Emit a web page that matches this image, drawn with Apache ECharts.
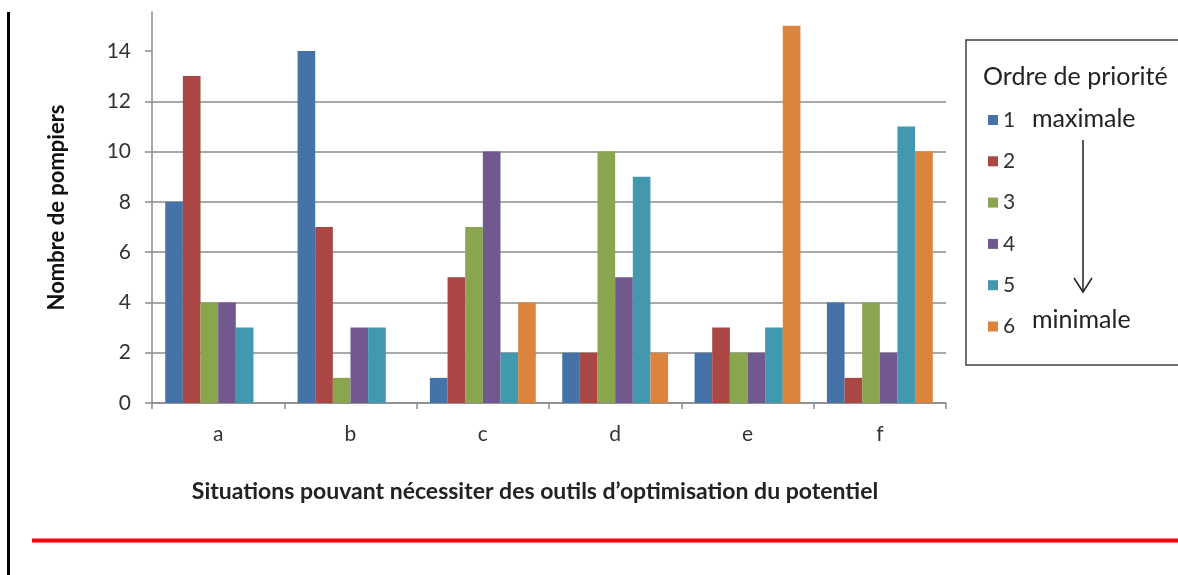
<!DOCTYPE html>
<html>
<head>
<meta charset="utf-8">
<title>Nombre de pompiers par situation</title>
<script src="https://cdn.jsdelivr.net/npm/echarts@6/dist/echarts.min.js"></script>
<style>
  html, body { margin: 0; padding: 0; background: #fff; }
  #chart { width: 1178px; height: 575px; }
</style>
</head>
<body>
<div id="chart"></div>
<script>
// situations (axe des x)
const categories = ['a', 'b', 'c', 'd', 'e', 'f'];
// ordre de priorité 1 (maximale) -> 6 (minimale)
const seriesNames = ['1', '2', '3', '4', '5', '6'];
const prio1 = [8, 14, 1, 2, 2, 4];
const prio2 = [13, 7, 5, 2, 3, 1];
const prio3 = [4, 1, 7, 10, 2, 4];
const prio4 = [4, 3, 10, 5, 2, 2];
const prio5 = [3, 3, 2, 9, 3, 11];
const prio6 = [0, 0, 4, 2, 15, 10];
const yTicks = [0, 2, 4, 6, 8, 10, 12, 14];

const colors = ['#4572a7', '#aa4643', '#89a54e', '#71588f', '#4198af', '#db843d'];
const font = 'Lato, "Open Sans", sans-serif';
const allData = [prio1, prio2, prio3, prio4, prio5, prio6];

const chart = echarts.init(document.getElementById('chart'));

const option = {
  animation: false,
  color: colors,
  textStyle: { fontFamily: font },
  grid: { left: 152, right: 232, top: 12, bottom: 172 },
  legend: {
    orient: 'vertical',
    left: 983,
    top: 104,
    icon: 'rect',
    itemWidth: 10,
    itemHeight: 10,
    itemGap: 19.3,
    data: seriesNames,
    textStyle: { fontSize: 21, color: '#333', lineHeight: 22, fontFamily: font }
  },
  xAxis: {
    type: 'category',
    data: categories,
    axisLine: { lineStyle: { color: '#8c8c8c', width: 1.5 } },
    axisTick: { show: true, length: 6, lineStyle: { color: '#8c8c8c', width: 1.5 } },
    axisLabel: { fontSize: 21, color: '#333', margin: 21, fontFamily: font },
    name: 'Situations pouvant nécessiter des outils d\u2019optimisation du potentiel',
    nameLocation: 'middle',
    nameGap: 77,
    nameTextStyle: { fontSize: 23, fontWeight: 'bold', color: '#222', padding: [0, 28, 0, 0], fontFamily: font }
  },
  yAxis: {
    type: 'value',
    min: 0,
    max: 15.55,
    interval: 2,
    axisLine: { show: true, lineStyle: { color: '#8c8c8c', width: 1.5 } },
    axisTick: { show: true, length: 7, customValues: yTicks, lineStyle: { color: '#8c8c8c', width: 1.5 } },
    axisLabel: { fontSize: 21, color: '#333', margin: 21, customValues: yTicks, fontFamily: font },
    splitLine: { show: true, showMaxLine: false, lineStyle: { color: '#8c8c8c', width: 1.5 } },
    name: 'Nombre de pompiers',
    nameLocation: 'middle',
    nameGap: 84,
    nameRotate: 90,
    nameTextStyle: { fontSize: 22, fontWeight: 'bold', color: '#111', fontFamily: font }
  },
  series: seriesNames.map((name, i) => ({
    name: name,
    type: 'bar',
    data: allData[i],
    barGap: '0%',
    barCategoryGap: '20%',
    itemStyle: { color: colors[i] }
  })),
  graphic: [
    // trait noir à gauche
    { type: 'rect', shape: { x: 7, y: 12, width: 3, height: 563 }, style: { fill: '#000' }, silent: true },
    // trait rouge en bas
    { type: 'rect', shape: { x: 32, y: 538.5, width: 1146, height: 4 }, style: { fill: '#ff0000' }, silent: true },
    // cadre de la légende
    { type: 'rect', shape: { x: 966, y: 40, width: 230, height: 325 }, style: { fill: 'none', stroke: '#404040', lineWidth: 1.5 }, silent: true },
    { type: 'text', x: 983, y: 77, style: { text: 'Ordre de priorité', fontSize: 25, fill: '#222', fontFamily: font, verticalAlign: 'middle' } },
    { type: 'text', x: 1032, y: 119, style: { text: 'maximale', fontSize: 25, fill: '#222', fontFamily: font, verticalAlign: 'middle' } },
    { type: 'text', x: 1032, y: 320, style: { text: 'minimale', fontSize: 25, fill: '#222', fontFamily: font, verticalAlign: 'middle' } },
    { type: 'line', shape: { x1: 1083, y1: 140, x2: 1083, y2: 292 }, style: { stroke: '#222', lineWidth: 1.5 } },
    { type: 'polyline', shape: { points: [[1074, 278], [1083, 292], [1092, 278]] }, style: { stroke: '#222', lineWidth: 1.5, fill: 'none' } }
  ]
};

chart.setOption(option);
</script>
</body>
</html>
